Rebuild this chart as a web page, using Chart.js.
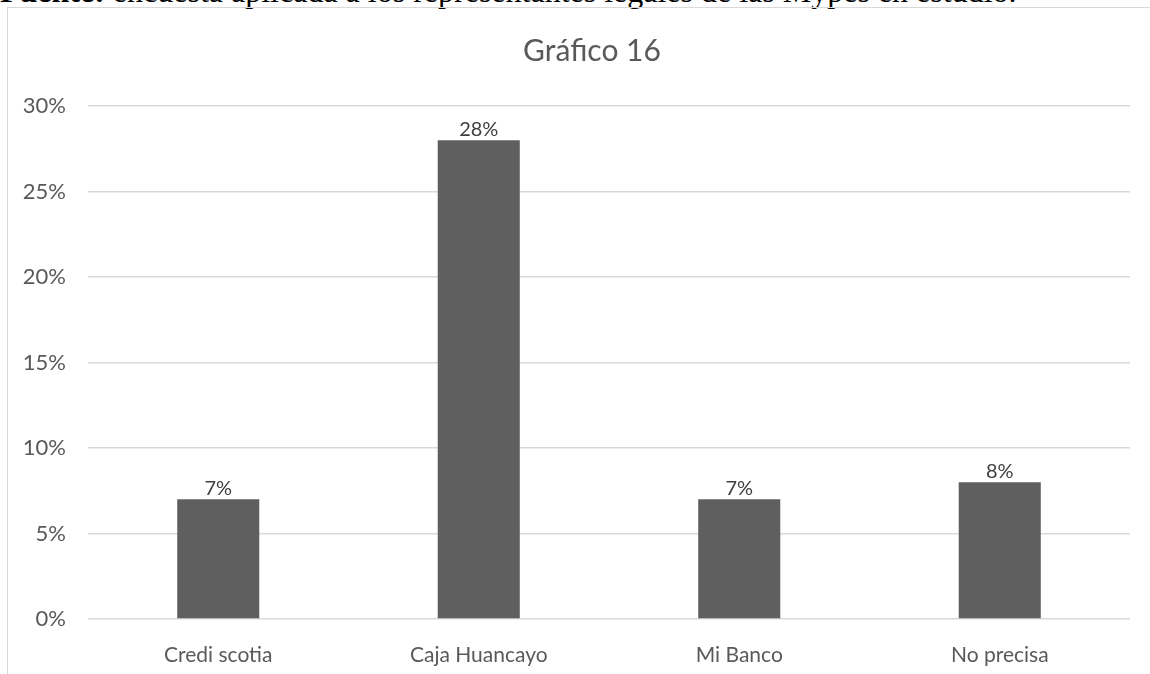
<!DOCTYPE html>
<html>
<head>
<meta charset="utf-8">
<script src="https://cdn.jsdelivr.net/npm/chart.js@4"></script>
<style>
  html, body { margin:0; padding:0; background:#fff; overflow:hidden; width:1150px; height:674px; }
  #fuente {
    position:absolute; left:0; top:-25px; white-space:nowrap; line-height:1;
    font-family:"Liberation Serif", "Times New Roman", serif; font-size:32px; color:#000;
  }
  #box {
    position:absolute; left:7px; top:7px; width:1165px; height:700px;
    border:1px solid #d9d9d9; box-sizing:border-box;
  }
  #grafico { display:block; }
  #titulo {
    position:absolute; left:392px; width:400px; top:31px; text-align:center; line-height:36px;
    font-family:Lato, Carlito, Calibri, sans-serif; font-size:30px; color:#595959;
  }
</style>
</head>
<body>
<div id="fuente"><b>Fuente:</b> encuesta aplicada a los representantes legales de las Mypes en estudio.</div>
<div id="box"><canvas id="grafico" width="1163" height="698"></canvas></div>
<div id="titulo">Gráfico 16</div>
<script>
// Datos del gráfico
const categorias = ["Credi scotia", "Caja Huancayo", "Mi Banco", "No precisa"];
const porcentajes = [7, 28, 7, 8];
const ticksY = [0, 5, 10, 15, 20, 25, 30];

const fuente = "Lato, Carlito, Calibri, sans-serif";

// Etiquetas encima de cada barra
const etiquetas = {
  id: 'etiquetas',
  afterDatasetsDraw(chart) {
    const ctx = chart.ctx;
    const meta = chart.getDatasetMeta(0);
    ctx.save();
    ctx.font = "20px " + fuente;
    ctx.fillStyle = "#404040";
    ctx.textAlign = "center";
    ctx.textBaseline = "bottom";
    meta.data.forEach((bar, i) => {
      ctx.fillText(porcentajes[i] + "%", bar.x, bar.y - 1);
    });
    ctx.restore();
  }
};

const ctx = document.getElementById('grafico').getContext('2d');
new Chart(ctx, {
  type: 'bar',
  data: {
    labels: categorias,
    datasets: [{
      data: porcentajes,
      backgroundColor: '#5f5f5f',
      categoryPercentage: 1,
      barPercentage: 0.315
    }]
  },
  options: {
    responsive: false,
    animation: false,
    devicePixelRatio: 1,
    layout: { padding: { left: 0, right: 41, top: 98, bottom: 0 } },
    plugins: {
      legend: { display: false },
      tooltip: { enabled: false },
      title: { display: false }
    },
    scales: {
      x: {
        grid: { display: false },
        border: { display: false },
        ticks: { color: '#595959', font: { family: fuente, size: 21 }, padding: 16, maxRotation: 0 },
        afterFit: s => { s.height = 87; }
      },
      y: {
        min: 0, max: 30,
        afterBuildTicks: s => { s.ticks = ticksY.map(v => ({ value: v })); },
        grid: { color: '#d9d9d9', lineWidth: 1.5, drawTicks: false },
        border: { display: false },
        ticks: {
          color: '#595959', font: { family: fuente, size: 22 }, padding: 22,
          callback: v => v + '%'
        },
        afterFit: s => { s.width = 80; }
      }
    }
  },
  plugins: [etiquetas]
});
</script>
</body>
</html>
